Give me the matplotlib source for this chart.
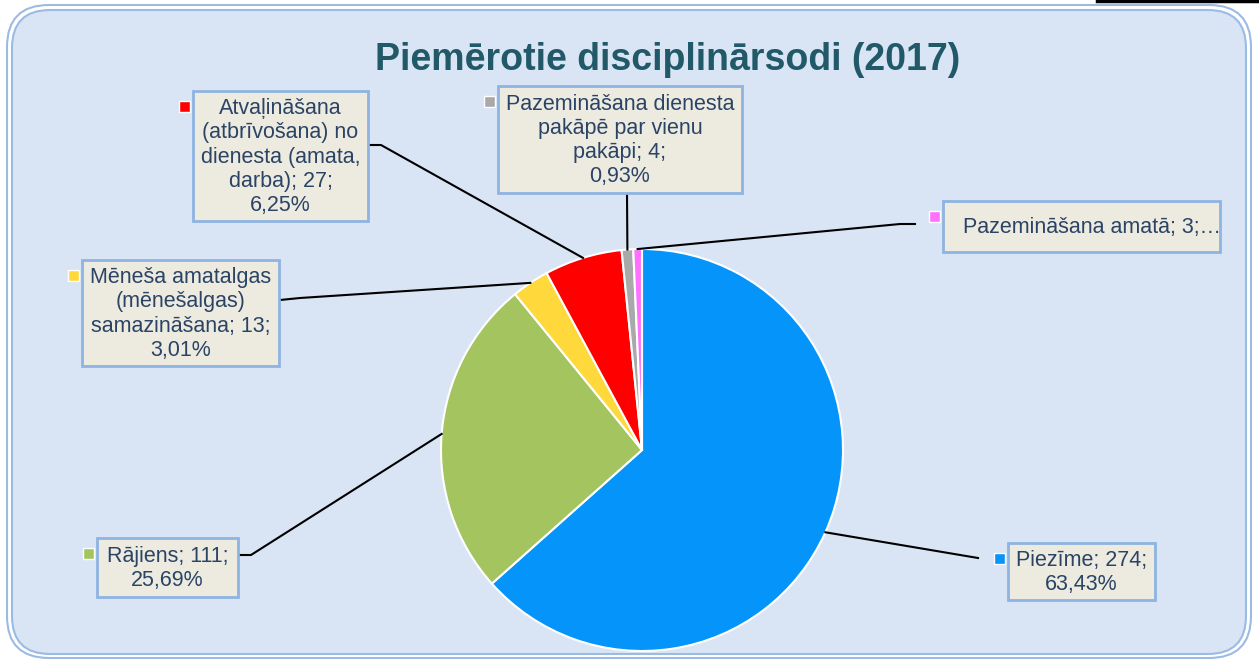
import numpy as np
import matplotlib.pyplot as plt
from matplotlib.patches import FancyBboxPatch, Rectangle

plt.rcParams['font.family'] = ['Liberation Sans', 'DejaVu Sans']

# data (clockwise from 12 o'clock)
categories = ['Piezīme', 'Rājiens', 'Mēneša amatalgas\n(mēnešalgas)\nsamazināšana',
              'Atvaļināšana\n(atbrīvošana) no\ndienesta (amata,\ndarba)',
              'Pazemināšana dienesta\npakāpē par vienu\npakāpi', 'Pazemināšana amatā']
values = [274, 111, 13, 27, 4, 3]
colors = ['#0594FA', '#A3C45E', '#FFD93B', '#FF0000', '#A9A9A9', '#FF70FF']
title = 'Piemērotie disciplinārsodi (2017)'

W, H = 1259, 659
fig = plt.figure(figsize=(W / 100, H / 100), dpi=100)
ax = fig.add_axes([0, 0, 1, 1])

# background frame
ax.add_patch(FancyBboxPatch((7, 5), 1244, 653, boxstyle='round,pad=0,rounding_size=42',
                            facecolor='none', edgecolor='#9BBBE4', lw=1.5, zorder=0))
ax.add_patch(FancyBboxPatch((12, 10), 1234, 644, boxstyle='round,pad=0,rounding_size=38',
                            facecolor='#D9E5F4', edgecolor='#9BBBE4', lw=1.5, zorder=0))
ax.plot([1097, W], [1, 1], color='black', lw=2.5, zorder=1)

# pie (y axis inverted -> counterclock in data = clockwise on screen)
cx, cy, r = 642, 450, 201
ax.pie(values, colors=colors, startangle=-90, counterclock=True, center=(cx, cy), radius=r,
       wedgeprops=dict(edgecolor='white', linewidth=1.5))

ax.set_xlim(0, W)
ax.set_ylim(H, 0)
ax.set_aspect('equal')
ax.axis('off')

ax.text(668, 60, title, ha='center', va='center', fontsize=27, fontweight='bold', color='#215968')

total = sum(values)
pcts = [v / total * 100 for v in values]
fracs = np.cumsum([0] + values) / total
mids = (fracs[:-1] + fracs[1:]) / 2 * 2 * np.pi
anchors = [(cx + r * np.sin(t), cy - r * np.cos(t)) for t in mids]

# label boxes: (x0, y0, x1, y1), leader points from box to pie
boxes = [(1008, 543, 1155, 600), (97, 538, 238, 597), (82, 260, 279, 366),
         (193, 91, 368, 221), (498, 86, 742, 193), (943, 201, 1220, 252)]
leaders = [[(978, 558)], [(239, 555), (251, 555)], [(280, 300), (300, 298)],
           [(369, 145), (381, 145)], [(627, 194)], [(915, 224), (900, 224)]]

txt_color = '#2B4466'
for i, (name, v, p) in enumerate(zip(categories, values, pcts)):
    x0, y0, x1, y1 = boxes[i]
    ax.add_patch(Rectangle((x0, y0), x1 - x0, y1 - y0, facecolor='#EDEBE0',
                           edgecolor='#8DB4E2', lw=2, zorder=3))
    ax.add_patch(Rectangle((x0 - 14, y0 + 10), 11, 11, facecolor=colors[i],
                           edgecolor='white', lw=1, zorder=3))
    pct = f'{p:.2f}%'.replace('.', ',')
    if i == 5:
        ax.text(x0 + 20, (y0 + y1) / 2 + 1, f'{name}; {v};…', ha='left', va='center',
                fontsize=15.5, color=txt_color, zorder=4)
    else:
        ax.text((x0 + x1) / 2, (y0 + y1) / 2 + 1, f'{name}; {v};\n{pct}', ha='center',
                va='center', fontsize=15.5, color=txt_color, linespacing=1.2, zorder=4)
    pts = leaders[i] + [anchors[i]]
    ax.plot([q[0] for q in pts], [q[1] for q in pts], color='black', lw=1.5, zorder=2)

fig.savefig('out.png', dpi=100, facecolor='white')
